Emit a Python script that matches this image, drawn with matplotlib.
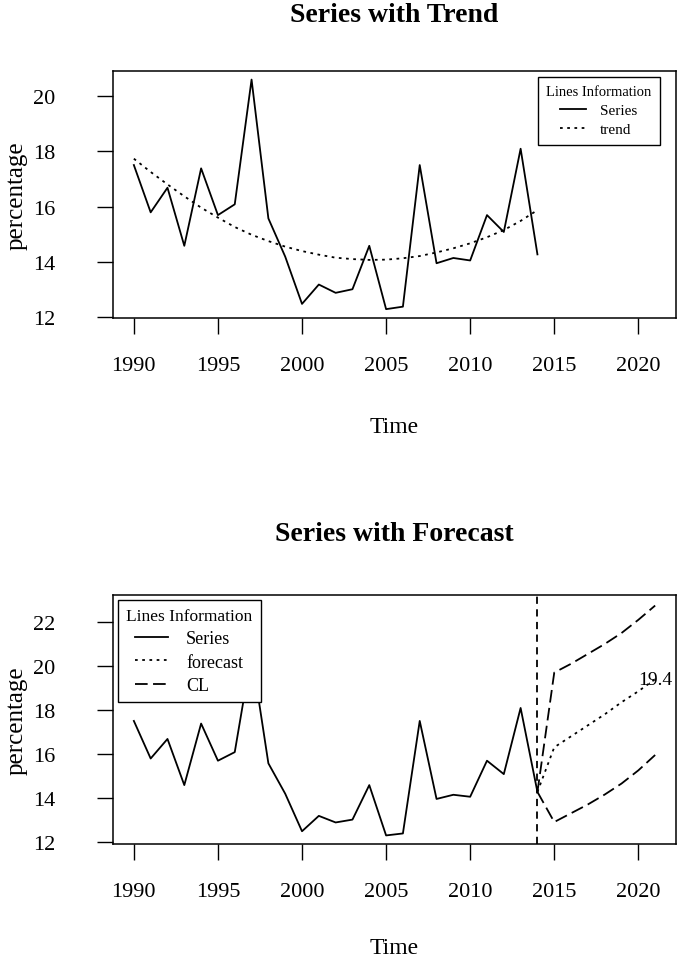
import matplotlib
matplotlib.use("Agg")
import matplotlib.pyplot as plt

plt.rcParams['font.family'] = ['Liberation Serif', 'DejaVu Serif']

years = list(range(1990, 2015))
series = [17.5, 15.79, 16.68, 14.58, 17.38, 15.69, 16.08, 20.59, 15.57, 14.19,
          12.48, 13.18, 12.88, 13.01, 14.58, 12.29, 12.38, 17.5, 13.95, 14.14,
          14.05, 15.69, 15.08, 18.09, 14.27]
trend = [17.73, 17.25, 16.8, 16.37, 15.96, 15.6, 15.26, 14.98, 14.75, 14.55,
         14.39, 14.26, 14.15, 14.1, 14.07, 14.08, 14.13, 14.21, 14.34, 14.49,
         14.67, 14.89, 15.15, 15.48, 15.87]

fc_years = list(range(2014, 2022))
forecast = [14.27, 16.3, 16.8, 17.3, 17.8, 18.35, 18.85, 19.4]
upper_cl = [14.27, 19.7, 20.1, 20.55, 21.0, 21.5, 22.1, 22.75]
lower_cl = [14.27, 12.9, 13.3, 13.7, 14.15, 14.65, 15.25, 15.95]

xticks = [1990, 1995, 2000, 2005, 2010, 2015, 2020]

W, H = 680, 962
fig = plt.figure(figsize=(6.8, 9.62), dpi=100)
ax1 = fig.add_axes([113 / W, 1 - 319 / H, 563 / W, 247 / H])
ax2 = fig.add_axes([113 / W, 1 - 845 / H, 563 / W, 249 / H])

lw = 1.3

def style(ax, yticks, ylim):
    ax.set_xlim(1988.76, 2022.24)
    ax.set_ylim(*ylim)
    ax.set_xticks(xticks)
    ax.set_yticks(yticks)
    ax.tick_params(length=11.5, width=1, labelsize=16, color='black')
    ax.tick_params(axis='x', pad=16)
    ax.tick_params(axis='y', pad=30)
    for s in ax.spines.values():
        s.set_linewidth(1.1)
    ax.set_ylabel('percentage', fontsize=18)
    ax.yaxis.set_label_coords(-0.152, 0.5)
    ax.set_xlabel('Time', fontsize=17, va='center')

# top: series with trend
ax1.plot(years, series, color='black', lw=lw, label='Series')
ax1.plot(years, trend, color='black', lw=lw, ls=(0, (1.5, 2.5)), label='trend')
style(ax1, [12, 14, 16, 18, 20], (11.97, 20.9))
ax1.xaxis.set_label_coords(0.5, -0.44)
leg1 = ax1.legend(title='Lines Information', loc='upper right',
                  bbox_to_anchor=(0.9716, 0.9757), borderaxespad=0,
                  fontsize=11, title_fontsize=10.5, fancybox=False,
                  edgecolor='black', framealpha=1, handlelength=1.7,
                  labelspacing=0.35, borderpad=0.55, handletextpad=0.9)
leg1.get_frame().set_linewidth(1.0)
fig.text(394.5 / W, 1 - 16 / H, 'Series with Trend', ha='center', va='center',
         fontsize=20, fontweight='bold')

# bottom: series with forecast
ax2.plot(years, series, color='black', lw=lw, label='Series')
ax2.plot(fc_years, forecast, color='black', lw=lw, ls=(0, (1.5, 2.5)), label='forecast')
ax2.plot(fc_years, upper_cl, color='black', lw=lw, ls=(0, (7, 3)), label='CL')
ax2.plot(fc_years, lower_cl, color='black', lw=lw, ls=(0, (7, 3)))
ax2.axvline(2014, color='black', lw=lw, ls=(0, (4, 3)))
ax2.text(2021, 19.4, '19.4', ha='center', va='center', fontsize=14)
style(ax2, [12, 14, 16, 18, 20, 22], (11.9, 23.23))
ax2.xaxis.set_label_coords(0.5, -0.414)
leg2 = ax2.legend(title='Lines Information', loc='upper left',
                  bbox_to_anchor=(0.0089, 0.98), borderaxespad=0,
                  fontsize=13, title_fontsize=12.5, fancybox=False,
                  edgecolor='black', framealpha=1, handlelength=1.8,
                  labelspacing=0.35, borderpad=0.45, handletextpad=1.0)
leg2.get_frame().set_linewidth(1.0)
fig.text(394.5 / W, 1 - 535 / H, 'Series with Forecast', ha='center', va='center',
         fontsize=20, fontweight='bold')

fig.savefig('out.png', dpi=100)
